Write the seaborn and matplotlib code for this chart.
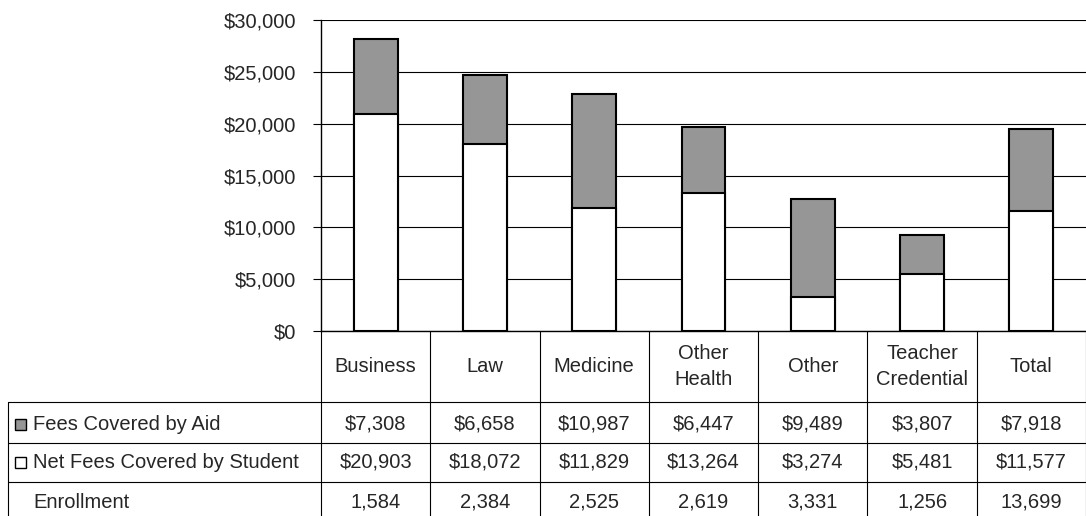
import matplotlib
matplotlib.use("Agg")
import matplotlib.pyplot as plt
import matplotlib.transforms as mtransforms
from matplotlib.patches import Rectangle
from matplotlib.ticker import FuncFormatter
import seaborn as sns

# ---- data ----
categories = ["Business", "Law", "Medicine", "Other\nHealth", "Other", "Teacher\nCredential", "Total"]
aid = [7308, 6658, 10987, 6447, 9489, 3807, 7918]
net = [20903, 18072, 11829, 13264, 3274, 5481, 11577]
enrollment = [1584, 2384, 2525, 2619, 3331, 1256, 13699]
row_labels = ["Fees Covered by Aid", "Net Fees Covered by Student", "Enrollment"]
yticks = [0, 5000, 10000, 15000, 20000, 25000, 30000]

totals = [a + n for a, n in zip(aid, net)]

sns.set_style("white")
plt.rcParams["font.family"] = ["Liberation Sans", "DejaVu Sans"]
FS = 14.5
GRAY = "#969696"

W, H = 1086, 516
fig = plt.figure(figsize=(W / 100, H / 100), dpi=100)
fig.patch.set_facecolor("white")

# table axes in pixel coordinates (whole figure)
tax = fig.add_axes([0, 0, 1, 1])
tax.set_xlim(0, W)
tax.set_ylim(H, 0)
tax.axis("off")
tax.patch.set_alpha(0)

ax_left, ax_right, ax_top, ax_bottom = 321, 1086, 20, 331
ax = fig.add_axes([ax_left / W, (H - ax_bottom) / H, (ax_right - ax_left) / W, (ax_bottom - ax_top) / H])
ax.patch.set_alpha(0)

sns.barplot(x=categories, y=totals, color=GRAY, edgecolor="black", linewidth=1.5,
            width=0.4, saturation=1, ax=ax, zorder=3)
sns.barplot(x=categories, y=net, color="white", edgecolor="black", linewidth=1.5,
            width=0.4, saturation=1, ax=ax, zorder=4)

ax.set_xlim(-0.5, len(categories) - 0.5)
ax.set_ylim(0, 30000)
ax.set_yticks(yticks)
ax.yaxis.set_major_formatter(FuncFormatter(lambda v, p: f"${v:,.0f}"))
ax.tick_params(axis="y", length=6, width=0.8, color="black", pad=12, labelsize=FS, left=True)
ax.set_xticks([])
ax.set_xlabel("")
ax.set_ylabel("")
ax.yaxis.grid(True, color="black", linewidth=0.8)
ax.set_axisbelow(True)
for s in ["top", "right"]:
    ax.spines[s].set_visible(False)
for s in ["left", "bottom"]:
    ax.spines[s].set_color("black")
    ax.spines[s].set_linewidth(1.0)

# ---- table ----
blend = mtransforms.blended_transform_factory(ax.transData, tax.transData)
row_lines = [402, 443, 482]
header_y = (ax_bottom + row_lines[0]) / 2
row_centers = [424, 462, 502]

# vertical column lines
for i in range(len(categories) + 1):
    tax.plot([i - 0.5, i - 0.5], [ax_bottom, H], color="black", lw=0.8, transform=blend, clip_on=False)
# horizontal row lines
for yl in row_lines:
    tax.plot([8, W], [yl, yl], color="black", lw=0.8)
# left border of row label column
tax.plot([8, 8], [row_lines[0], H], color="black", lw=0.8)

# header labels
for i, c in enumerate(categories):
    tax.text(i, header_y, c, ha="center", va="center", fontsize=FS, transform=blend,
             linespacing=1.45)

# row values
rows = [[f"${v:,}" for v in aid], [f"${v:,}" for v in net], [f"{v:,}" for v in enrollment]]
for r, vals in enumerate(rows):
    for i, v in enumerate(vals):
        tax.text(i, row_centers[r], v, ha="center", va="center", fontsize=FS, transform=blend)

# row labels with legend keys
key_colors = [GRAY, "white", None]
for r, lab in enumerate(row_labels):
    tax.text(33, row_centers[r], lab, ha="left", va="center", fontsize=FS)
    if key_colors[r] is not None:
        tax.add_patch(Rectangle((15, row_centers[r] - 5.5), 11, 11, facecolor=key_colors[r],
                                edgecolor="black", lw=1.0))

fig.savefig("out.png", dpi=100)
